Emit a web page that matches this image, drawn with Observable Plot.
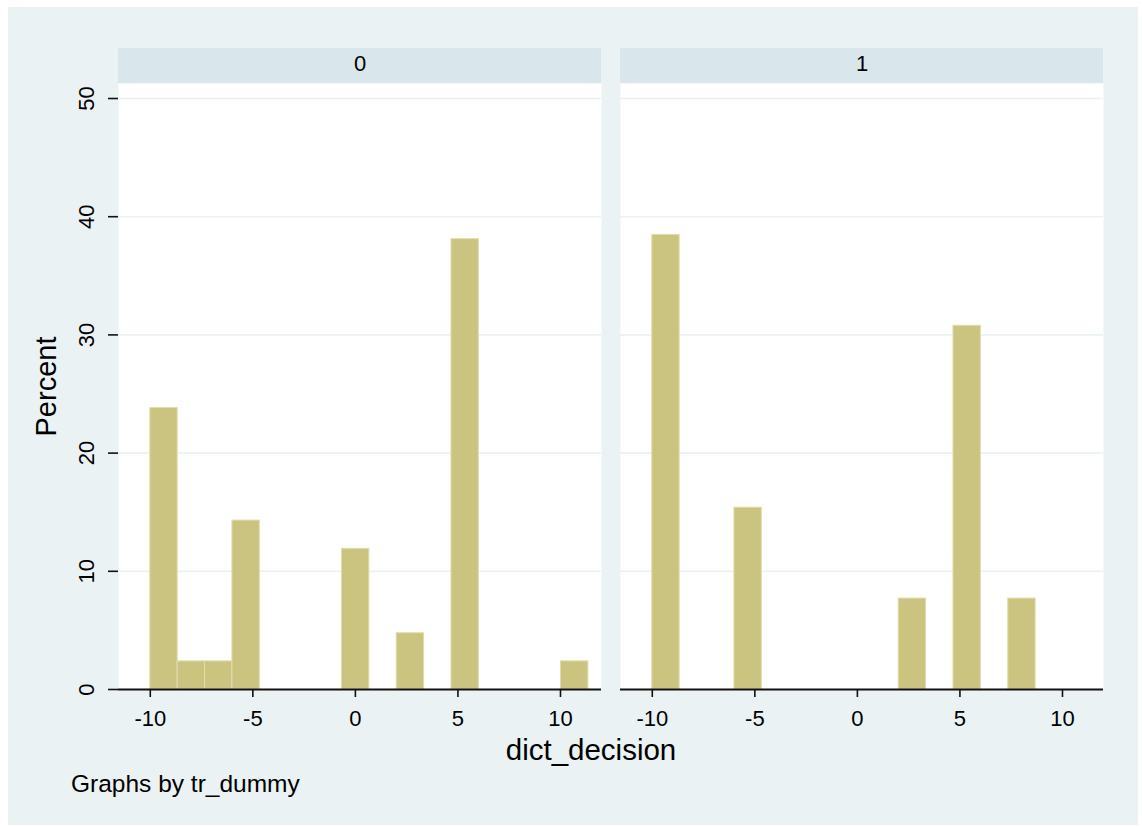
<!DOCTYPE html>
<html>
<head>
<meta charset="utf-8">
<script src="https://cdn.jsdelivr.net/npm/d3@7"></script>
<script src="https://cdn.jsdelivr.net/npm/@observablehq/plot@0.6"></script>
<style>
html, body { margin: 0; padding: 0; background: #ffffff; }
#wrap { position: absolute; left: 8px; top: 7px; width: 1130px; height: 818px; background: #eaf2f3;
  font-family: "Liberation Sans", Arial, Helvetica, sans-serif; color: #000; }
#chart { position: absolute; left: 0; top: 0; }
#xlabel { position: absolute; left: 0; width: 1166px; top: 728px; text-align: center; font-size: 29.5px; line-height: 30px; }
#note { position: absolute; left: 63px; top: 764px; font-size: 24.5px; line-height: 25px; white-space: nowrap; }
</style>
</head>
<body>
<div id="wrap">
  <div id="chart"></div>
  <div id="xlabel">dict_decision</div>
  <div id="note">Graphs by tr_dummy</div>
</div>
<script>
// ---- data ----
const panels = ["0", "1"];
const binWidth = 1.335;
const panel0BinStarts = [-10, -8.665, -7.33, -5.995, -0.655, 2.015, 4.685, 10.025];
const panel0Percent   = [23.81, 2.38, 2.38, 14.29, 11.90, 4.76, 38.10, 2.38];
const panel1BinStarts = [-10, -5.995, 2.015, 4.685, 7.355];
const panel1Percent   = [38.46, 15.38, 7.69, 30.77, 7.69];
const xTicks = [-10, -5, 0, 5, 10];
const yTicks = [0, 10, 20, 30, 40, 50];
const gridTicks = [10, 20, 30, 40, 50];

// ---- table for the library ----
const bars = [
  ...panel0BinStarts.map((s, i) => ({panel: "0", x1: s, x2: s + binWidth, pct: panel0Percent[i]})),
  ...panel1BinStarts.map((s, i) => ({panel: "1", x1: s, x2: s + binWidth, pct: panel1Percent[i]}))
];

const W = 1130, H = 780;
const xDomain = [-11.55, 12];
const yDomain = [0, 51.27];
const headerTop = 54.23;
const font = "'Liberation Sans', Arial, Helvetica, sans-serif";

const chart = Plot.plot({
  width: W,
  height: H,
  marginLeft: 110,
  marginRight: 34,
  marginTop: 76,
  marginBottom: H - 682,
  style: {background: "transparent", fontFamily: font, color: "#000", overflow: "visible"},
  x: {domain: xDomain, axis: null},
  y: {domain: yDomain, axis: null},
  fx: {domain: panels, paddingInner: 19 / 503, paddingOuter: 0, axis: null, label: null},
  marks: [
    Plot.frame({fill: "white", stroke: "none"}),
    Plot.rect(panels, {fx: d => d, x1: xDomain[0], x2: xDomain[1], y1: yDomain[1], y2: headerTop, fill: "#d9e6eb"}),
    Plot.text(panels, {fx: d => d, text: d => d, frameAnchor: "top", lineAnchor: "middle", textAnchor: "middle", dy: -20, fontSize: 22, fill: "#000"}),
    Plot.ruleY(gridTicks, {stroke: "#eaf2f3", strokeWidth: 1.6}),
    Plot.rectY(bars, {fx: "panel", x1: "x1", x2: "x2", y: "pct", fill: "#cbc480", stroke: "#e0dcaa", strokeWidth: 1}),
    Plot.ruleY([0], {stroke: "#111", strokeWidth: 2}),
    Plot.axisX({ticks: xTicks, tickSize: 8, tickPadding: 13, tickFormat: d => String(d), fontSize: 22, label: null, stroke: "#111", strokeWidth: 1.6, fill: "#000"}),
    Plot.axisY({ticks: yTicks, tickSize: 10, tickFormat: () => "", label: null, stroke: "#111", strokeWidth: 1.6}),
    Plot.text(yTicks.map(v => ({panel: "0", v})), {fx: "panel", y: "v", text: d => String(d.v), frameAnchor: "left", textAnchor: "middle", lineAnchor: "middle", dx: -31.5, rotate: -90, fontSize: 22, fill: "#000"}),
    Plot.text([{panel: "0", t: "Percent"}], {fx: "panel", text: "t", frameAnchor: "left", textAnchor: "middle", lineAnchor: "middle", dx: -72, rotate: -90, fontSize: 29, fill: "#000"})
  ]
});
document.getElementById("chart").appendChild(chart);
</script>
</body>
</html>
